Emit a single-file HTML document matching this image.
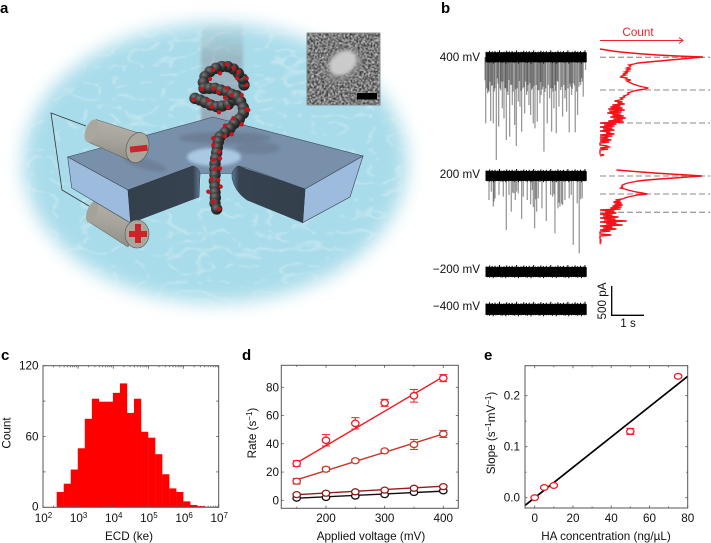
<!DOCTYPE html>
<html lang="en">
<head>
<meta charset="utf-8">
<title>Nanopore translocation figure</title>
<style>
html,body{margin:0;padding:0;background:#fff;width:711px;height:543px;overflow:hidden}
svg{position:absolute;left:0;top:0;display:block;filter:blur(.3px)}
text{font-family:"Liberation Sans",sans-serif;fill:#111;font-size:11.7px}
.pl{font-weight:bold;font-size:15px;fill:#000}
</style>
</head>
<body>
<svg id="fig" width="711" height="543" viewBox="0 0 711 543" xmlns="http://www.w3.org/2000/svg">
<defs>
<filter id="b14" x="-20%" y="-20%" width="140%" height="140%"><feGaussianBlur stdDeviation="9"/></filter>
<filter id="b4" x="-40%" y="-40%" width="180%" height="180%"><feGaussianBlur stdDeviation="4"/></filter>
<filter id="b2" x="-40%" y="-40%" width="180%" height="180%"><feGaussianBlur stdDeviation="1.5"/></filter>
<filter id="caustic" x="0" y="0" width="100%" height="100%" color-interpolation-filters="sRGB">
<feTurbulence type="turbulence" baseFrequency="0.035 0.06" numOctaves="2" seed="11"/>
<feColorMatrix type="matrix" values="0 0 0 0 1  0 0 0 0 1  0 0 0 0 1  -7 0 0 0 1.05"/>
<feGaussianBlur stdDeviation=".6"/>
</filter>
<filter id="grain" x="0" y="0" width="100%" height="100%" color-interpolation-filters="sRGB">
<feTurbulence type="fractalNoise" baseFrequency="0.7" numOctaves="2" seed="3"/>
<feColorMatrix type="matrix" values="2.4 0 0 0 -0.72  2.4 0 0 0 -0.72  2.4 0 0 0 -0.72  0 0 0 0 1"/>
<feGaussianBlur stdDeviation=".4"/>
</filter>
<mask id="oceanMask"><ellipse cx="215" cy="163" rx="192" ry="140" fill="#fff" filter="url(#b14)"/></mask>
<linearGradient id="cyl1" x1="0.4" y1="0" x2="0.2" y2="1"><stop offset="0" stop-color="#b4b1a8"/><stop offset=".5" stop-color="#a5a299"/><stop offset="1" stop-color="#8b8980"/></linearGradient>
<radialGradient id="bead" cx=".38" cy=".33" r=".75"><stop offset="0" stop-color="#777"/><stop offset=".55" stop-color="#333"/><stop offset="1" stop-color="#141414"/></radialGradient>
<linearGradient id="beam" x1="0" y1="0" x2="0" y2="1"><stop offset="0" stop-color="#8a8a90" stop-opacity="0"/><stop offset=".35" stop-color="#80808a" stop-opacity=".38"/><stop offset="1" stop-color="#7d6a78" stop-opacity=".45"/></linearGradient>
<linearGradient id="darkL" x1="0" y1="0" x2="1" y2="0"><stop offset="0" stop-color="#343f4c"/><stop offset=".9" stop-color="#36424f"/><stop offset="1" stop-color="#5f7a95"/></linearGradient>
<linearGradient id="darkR" x1="1" y1="0" x2="0" y2="0"><stop offset="0" stop-color="#343f4c"/><stop offset=".9" stop-color="#36424f"/><stop offset="1" stop-color="#5f7a95"/></linearGradient>
</defs>

<g id="panel-a">
  <ellipse cx="215" cy="163" rx="192" ry="140" fill="#a9dcea" filter="url(#b14)"/>
  <g mask="url(#oceanMask)"><rect x="0" y="0" width="430" height="340" filter="url(#caustic)" opacity=".3"/></g>
  <rect x="201" y="20" width="42" height="108" fill="url(#beam)" filter="url(#b2)"/>

  <g>
    <polygon points="94,201 140,221 128,247 89,222" fill="url(#cyl1)" stroke="#555" stroke-width=".5"/>
    <ellipse cx="92" cy="212" rx="5" ry="11" transform="rotate(20 92 212)" fill="#a5a299"/>
  </g>

  <polygon points="67.7,157 213,117 363,156 305,189 247,168 238,166 232,174 200,174 193,166 128,190" fill="#7890aa" stroke="#3b4654" stroke-width=".6"/>
  <polygon points="67.7,157 128,190 130.7,223 71.7,188" fill="#9dbcdd" stroke="#3b4654" stroke-width=".6"/>
  <polygon points="363,156 305,189 302.7,222.7 350,197" fill="#9dbcdd" stroke="#3b4654" stroke-width=".6"/>
  <path d="M128,190 L193,166 Q200,168 200,175 L199,197 L130.7,223 Z" fill="url(#darkL)" stroke="#2e3844" stroke-width=".5"/>
  <path d="M305,189 L238,166 Q231,170 232,178 Q235,192 247,200 L302.7,222.7 Z" fill="url(#darkR)" stroke="#2e3844" stroke-width=".5"/>
  <ellipse cx="225" cy="138" rx="46" ry="6" fill="#5d6b7d" opacity=".45" filter="url(#b2)"/>
  <ellipse cx="258" cy="148" rx="22" ry="6" fill="#5d6b7d" opacity=".4" filter="url(#b2)"/>
  <ellipse cx="145" cy="164" rx="22" ry="5" transform="rotate(15 145 164)" fill="#5d6b7d" opacity=".4" filter="url(#b2)"/>
  <ellipse cx="214" cy="157" rx="27" ry="9" fill="#b4d2ec" opacity=".85" filter="url(#b2)"/>
  <rect x="201" y="174" width="30" height="24" fill="#a9dcea"/>

  <g>
    <polygon points="96,119.5 145,135 131,161 88,142" fill="url(#cyl1)" stroke="#555" stroke-width=".5"/>
    <ellipse cx="91.500" cy="131" rx="6" ry="12" transform="rotate(20 91.5 131)" fill="#aaa79e"/>
    <ellipse cx="137.500" cy="147.500" rx="11" ry="15.500" transform="rotate(18 137.5 147.5)" fill="#a9a69c" stroke="#555" stroke-width=".6"/>
    <rect x="130" y="145.700" width="17.500" height="6" transform="rotate(-6 138.7 148.7)" fill="#c8262b"/>
  </g>
  <g>
    <ellipse cx="137" cy="234" rx="12" ry="14" fill="#a9a69c" stroke="#555" stroke-width=".6"/>
    <rect x="129" y="231" width="18" height="6" fill="#c8262b"/>
    <rect x="135" y="224" width="6" height="19" fill="#c8262b"/>
  </g>
  <polyline points="86,126 51,113 62,190 89,206" fill="none" stroke="#333" stroke-width=".8"/>
  <g id="beads" transform="translate(180 55) scale(.3333)"></g>

  <g>
    <rect x="307" y="33" width="73" height="72" filter="url(#grain)"/>
    <ellipse cx="343" cy="65" rx="21" ry="16" transform="rotate(-35 343 65)" fill="#8a8a8a" opacity=".55" filter="url(#b2)"/>
    <ellipse cx="343" cy="63" rx="15" ry="11" transform="rotate(-35 343 63)" fill="#cfcfcf" opacity=".95" filter="url(#b2)"/>
    <rect x="307" y="33" width="73" height="72" fill="none" stroke="#777" stroke-width=".8"/>
    <rect x="357" y="93" width="20" height="6.500" fill="#000"/>
  </g>
</g>

<text class="pl" x="0" y="13">a</text>
<text class="pl" x="441" y="13">b</text>
<text class="pl" x="1" y="360">c</text>
<text class="pl" x="242" y="360">d</text>
<text class="pl" x="484" y="360">e</text>

<g id="panel-b">
  <text x="480" y="61" text-anchor="end">400 mV</text>
  <text x="480" y="178" text-anchor="end">200 mV</text>
  <text x="480" y="273" text-anchor="end">−200 mV</text>
  <text x="480" y="310" text-anchor="end">−400 mV</text>
  <text x="638" y="36" text-anchor="middle" style="fill:#e8262c">Count</text>
  <line x1="600" y1="40.500" x2="682" y2="40.500" stroke="#e8262c" stroke-width="1"/>
  <polyline points="679,37.500 683,40.500 679,43.500" fill="none" stroke="#e8262c" stroke-width="1"/>
  <line x1="611.700" y1="286" x2="611.700" y2="315.500" stroke="#000" stroke-width="1.300"/>
  <line x1="611" y1="315.300" x2="644" y2="315.300" stroke="#000" stroke-width="1.300"/>
  <text x="0" y="0" text-anchor="middle" transform="translate(606 301) rotate(-90)">500 pA</text>
  <text x="628" y="327" text-anchor="middle">1 s</text>
</g>

<g id="plots"></g>

<script>
/* panel b data */
const spike400Times = [.05,.11,.15,.20,.28,.37,.44,.48,.55,.60,.67,.72,.77,.80,.85,.92,.97,1.03,1.08,1.13,1.22,1.28,1.32,1.35,1.40,1.48,1.53,1.60,1.68,1.72,1.80,1.90,1.97,2.03,2.10,2.17,2.25,2.36,2.43,2.48,2.56,2.63,2.74,2.81,2.90,2.98,3.05,.08,.18,.25,.33,.40,.52,.63,.75,.88,1.00,1.17,1.25,1.45,1.57,1.65,1.77,1.85,2.00,2.07,2.13,2.22,2.30,2.40,2.52,2.60,2.68,2.78,2.85,2.95,.03,.13,.23,.31,.42,.50,.57,.65,.70,.83,.95,1.06,1.11,1.20,1.30,1.38,1.43,1.50,1.62,1.70,1.75,1.83,1.93,2.05,2.15,2.20,2.33,2.45,2.58,2.65,2.72,2.88,2.93];
const spike400Amps = [1194,654,624,1152,1194,1854,1254,564,924,1104,1494,684,1434,504,864,1224,1602,804,894,1344,1014,684,504,864,1044,1194,1284,1164,834,684,1704,1194,744,1344,924,1374,894,1074,744,984,1356,684,1356,1044,504,714,234,564,444,504,564,384,444,564,414,624,564,564,444,564,504,594,534,564,564,624,504,444,594,504,564,534,474,624,534,444,420,600,520,620,480,600,440,560,620,500,580,430,610,540,620,470,590,520,600,450,580,630,500,560,610,430,540,600,480,570,510,450,380];
const spike200Times = [.15,.22,.28,.33,.45,.58,.67,.75,.82,.90,.94,1.03,1.13,1.18,1.30,1.40,1.45,1.52,1.58,1.63,1.74,1.87,2.00,2.06,2.13,2.22,2.28,2.36,2.43,2.56,2.68,2.80,2.86,2.95,.30,.86,.98,1.48,1.55,2.10,2.25,2.33,2.62,2.90];
const spike200Amps = [432,282,552,402,342,372,972,342,642,312,432,312,774,372,432,510,252,942,642,402,582,810,342,372,1032,582,552,522,432,402,1242,492,1392,402,460,300,280,560,420,330,480,500,340,420];
const noiseUp = [5.2,5.6,5,5.4,6.6,5.1,5.3,5.9,5,5.2,6.2,5.2,4.9,5.5,5.3,7,5.1,5.4,5];
const noiseDown = [5,4.8,5.3,4.9,5.7,4.8,5.1,4.8,6.2,5,4.9,5.3,4.8,5.1];
const hist400Counts = [0,6,12,20,30,42,56,75,100,89,79,68,58,47,37,33,28,30,29,26,30,25,28,24,27,22,25,21,20,26,25,30,26,28,30,32,35,38,42,47,44,38,33,30,27,28,26,23,24,20,22,19,14,22,17,24,12,20,10,22,8,24,9,21,7,20,12,23,10,25,13,22,8,23,0,16,4,14,0,12,3,14,0,10,6,14,0,12,0,8,0,11,0,9,0,0,0,7,9,0,8,0,0,0,0,0,4,0];
const hist200Counts = [16,28,40,53,68,85,99,85,72,58,46,37,32,27,24,22,21,22,20,24,27,31,35,41,46,36,32,27,24,22,15,20,13,21,14,22,12,21,10,20,0,14,5,16,0,12,3,18,0,15,4,26,0,16,6,22,0,12,3,16,0,10,0,0,0,11,0,0,0,0,1,0,1,0,1];

/* panel c data */
const binLogEdges = [2.39,2.59,2.79,2.99,3.19,3.39,3.59,3.79,3.99,4.19,4.39,4.59,4.79,4.99,5.19,5.39,5.59,5.79,5.99,6.19,6.39,6.59];
const binCounts = [13,20,32,50,75,92,89.500,89.500,97,105,80,92,64,59,45,28,16,13,5,2,1,.4];
const ecdTickExponents = [2,3,4,5,6,7];
const countTickLabels = [0,60,120];
const countTicks = [0,30,60,90,120];

/* panel d data */
const voltages = [150,200,250,300,350,400];
const rateRed = [26,42.500,54.500,69,74,86.500];
const rateRedErr = [2,4,4,2.500,4.500,2.500];
const rateBrown = [13.500,22,28,35,39.500,47];
const rateBrownErr = [2,1.500,1.200,1,3.500,2.500];
const rateDarkRed = [4,5,6,7.200,8.500,9.700];
const rateDarkRedErr = [.8,.8,.8,.8,.8,.8];
const rateBlack = [1.500,2,3,4,5.500,6.700];
const rateBlackErr = [.6,.6,.6,.6,.6,.6];
const fitVoltages = [150,400];
const fitRed = [26.500,87.500];
const fitBrown = [14.500,47];
const fitDarkRed = [4,10];
const fitBlack = [1.500,6.500];
const voltageTicks = [200,300,400];
const voltageMinor = [150,250,350];
const rateTicks = [0,20,40,60,80];

/* panel e data */
const concentrations = [0,5,10,50,75];
const slopes = [0,.02,.024,.13,.238];
const slopeErr = [.002,.002,.002,.006,.002];
const slopeFitX = [-5,80];
const slopeFitY = [-.015,.238];
const concTicks = [0,20,40,60,80];
const concMinor = [10,30,50,70];
const slopeTicks = [0,.1,.2];
const slopeMinor = [.05,.15];

/* illustration beads */
const coilBack = [[45,130],[60,135],[75,142],[92,150],[110,155],[127,153],[145,148],[160,135],[170,122]];
const coilFront = [[192,90],[188,72],[175,55],[160,42],[143,35],[125,35],[108,40],[90,50],[75,65],[70,82],[72,100],[88,100],[105,100],[122,105],[140,110],[155,118],[170,125],[182,140],[190,158],[190,175],[178,192],[163,205],[150,220],[135,232],[120,245],[115,260],[112,277],[110,293],[107,310],[105,326],[105,343],[105,360],[103,378],[105,395],[105,412],[106,428],[105,445],[110,462]];
const redDots = [[140,28],[120,55],[100,45],[160,38],[175,50],[200,70],[200,90],[172,70],[90,72],[65,102],[100,100],[115,112],[140,100],[135,128],[155,120],[185,120],[40,135],[85,135],[95,155],[117,172],[145,157],[200,162],[205,165],[160,190],[185,208],[135,212],[155,238],[135,243],[100,250],[100,270],[118,290],[100,315],[120,310],[105,342],[120,340],[95,372],[115,375],[85,410],[122,395],[100,440],[118,462]];

const NS = 'http://www.w3.org/2000/svg';
const root = document.getElementById('plots');
const FRAME = '#555';

function mk(tag, attrs, name, parent) {
  const e = document.createElementNS(NS, tag);
  for (const k in attrs) e.setAttribute(k, attrs[k]);
  
  
  (parent || root).appendChild(e);
  return e;
}
function label(x, y, str, anchor, name, parent) {
  const t = mk('text', {x: x, y: y, 'text-anchor': anchor}, name, parent);
  t.textContent = str;
  return t;
}
function sup(t, str, after) {
  const s = document.createElementNS(NS, 'tspan');
  s.setAttribute('dy', '-4');
  s.setAttribute('font-size', '8');
  s.textContent = str;
  t.appendChild(s);
  const r = document.createElementNS(NS, 'tspan');
  r.setAttribute('dy', '4');
  r.textContent = after || '';
  t.appendChild(r);
}
function tick(x1, y1, x2, y2, name, parent) {
  mk('line', {x1: x1, y1: y1, x2: x2, y2: y2, stroke: FRAME, 'stroke-width': .8}, name, parent);
}
function frame(box, name, parent) {
  mk('rect', {x: box.l, y: box.t, width: box.r - box.l, height: box.b - box.t, fill: 'none', stroke: FRAME, 'stroke-width': 1}, name, parent);
}
function xTicks(vals, fx, box, len, name, parent) {
  vals.forEach(function (v) {
    tick(fx(v), box.b, fx(v), box.b - len, name + '-bottom', parent);
    tick(fx(v), box.t, fx(v), box.t + len, name + '-top', parent);
  });
}
function yTicks(vals, fy, box, len, name, parent) {
  vals.forEach(function (v) {
    tick(box.l, fy(v), box.l + len, fy(v), name + '-left', parent);
    tick(box.r, fy(v), box.r - len, fy(v), name + '-right', parent);
  });
}

/* ---------- panel a beads ---------- */
const beadGroup = document.getElementById('beads');
coilBack.concat(coilFront).forEach(function (p) {
  mk('circle', {cx: p[0], cy: p[1], r: 17, fill: 'url(#bead)'}, 'dna-bead', beadGroup);
});
redDots.forEach(function (p) {
  mk('circle', {cx: p[0], cy: p[1], r: 6.5, fill: '#c8141c'}, 'dna-label-dot', beadGroup);
});

/* ---------- panel b ---------- */
const traceX0 = 486, traceX1 = 586.7, spikeX0 = 484, pxPerSec = 33.3, pxPerPA = 1 / 18;
function drawBand(cy, scale, name, g) {
  mk('rect', {x: traceX0, y: cy - 4.7 * scale, width: traceX1 - traceX0, height: 9.4 * scale, fill: '#000'}, name + '-core', g);
  let i = 0;
  for (let x = traceX0; x <= traceX1; x += .9) {
    mk('line', {x1: x, x2: x, y1: cy - noiseUp[i % noiseUp.length] * scale, y2: cy + noiseDown[i % noiseDown.length] * scale, stroke: '#000', 'stroke-width': 1}, name + '-noise', g);
    i++;
  }
}
function drawSpikes(times, amps, cy, name, g) {
  times.forEach(function (t, i) {
    const x = spikeX0 + t * pxPerSec;
    mk('line', {x1: x, x2: x, y1: cy, y2: cy + amps[i] * pxPerPA, stroke: '#000', 'stroke-opacity': .4, 'stroke-width': 1.3}, name, g);
  });
}
function drawHist(counts, yStart, name, g) {
  const pts = counts.map(function (c, i) { return (600 + c * 1.03) + ',' + (yStart + i); }).join(' ');
  mk('polyline', {points: pts, fill: 'none', stroke: '#f5101a', 'stroke-width': 1.4}, name, g);
}
function drawDashes(ys, name, g) {
  ys.forEach(function (y) {
    mk('line', {x1: 600, x2: 710, y1: y, y2: y, stroke: '#a0a0a0', 'stroke-width': 1.3, 'stroke-dasharray': '6 3'}, name, g);
  });
}
const gb = mk('g', {}, 'traces', root);
drawSpikes(spike400Times, spike400Amps, 57, 'spike-400mv', gb);
drawBand(57.3, 1, 'trace-400mv', gb);
drawSpikes(spike200Times, spike200Amps, 176, 'spike-200mv', gb);
drawBand(176, 1, 'trace-200mv', gb);
drawBand(272, 1, 'trace-neg200mv', gb);
drawBand(309.5, 1.1, 'trace-neg400mv', gb);
drawDashes([57.3, 90, 123], 'level-line-400mv', gb);
drawDashes([176, 194, 212.3], 'level-line-200mv', gb);
drawHist(hist400Counts, 49, 'histogram-400mv', gb);
drawHist(hist200Counts, 170, 'histogram-200mv', gb);

/* ---------- panel c ---------- */
const boxC = {l: 43, r: 218.7, t: 365.7, b: 507.3};
const xC = function (logv) { return boxC.l + (logv - 2) * (boxC.r - boxC.l) / 5; };
const yC = function (v) { return boxC.b - v * (boxC.b - boxC.t) / 120; };
const gc = mk('g', {}, 'ecd-histogram-chart', root);
binCounts.forEach(function (c, i) {
  const w = i + 1 < binLogEdges.length ? xC(binLogEdges[i + 1]) - xC(binLogEdges[i]) : xC(binLogEdges[i] + .2) - xC(binLogEdges[i]);
  mk('rect', {x: xC(binLogEdges[i]), y: yC(c), width: w + .2, height: yC(0) - yC(c), fill: '#fe0000'}, 'ecd-bar', gc);
});
ecdTickExponents.forEach(function (ex) {
  tick(xC(ex), boxC.b, xC(ex), boxC.b - 3, 'x-tick-bottom', gc);
  tick(xC(ex), boxC.t, xC(ex), boxC.t + 3, 'x-tick-top', gc);
  if (ex < 7) for (let m = 2; m < 10; m++) {
    const lx = xC(ex + Math.log10(m));
    tick(lx, boxC.b, lx, boxC.b - 1.6, 'x-minor-tick-bottom', gc);
    tick(lx, boxC.t, lx, boxC.t + 1.6, 'x-minor-tick-top', gc);
  }
  const t = label(xC(ex) + .5, 522, '10', 'middle', 'x-tick-label', gc);
  sup(t, String(ex));
});
yTicks(countTicks, yC, boxC, 2.5, 'y-tick', gc);
countTickLabels.forEach(function (v) {
  label(38.5, yC(v) + (v === 0 ? 3 : 4), String(v), 'end', 'y-tick-label', gc);
});
frame(boxC, 'ecd-plot-frame', gc);
label(129, 540, 'ECD (ke)', 'middle', 'x-axis-title', gc);
const countTitle = label(0, 0, 'Count', 'middle', 'y-axis-title', gc);
countTitle.setAttribute('transform', 'translate(10.5 433) rotate(-90)');

/* ---------- panel d ---------- */
const boxD = {l: 281.3, r: 458.3, t: 365.3, b: 508.3};
const xD = function (v) { return 326 + (v - 200) * .5865; };
const yD = function (v) { return 500.3 - v * 1.4125; };
const gd = mk('g', {}, 'rate-chart', root);
function series(xs, ys, errs, fitX, fitY, fx, fy, color, name, g, rx, ry) {
  mk('line', {x1: fx(fitX[0]), y1: fy(fitY[0]), x2: fx(fitX[1]), y2: fy(fitY[1]), stroke: color, 'stroke-width': 1.4}, name + '-fit-line', g);
  xs.forEach(function (x, i) {
    const px = fx(x);
    const hi = fy(ys[i] + errs[i]), lo = fy(ys[i] - errs[i]);
    mk('line', {x1: px, x2: px, y1: hi, y2: lo, stroke: color, 'stroke-width': 1}, name + '-error-bar', g);
    mk('line', {x1: px - 4, x2: px + 4, y1: hi, y2: hi, stroke: color, 'stroke-width': 1}, name + '-error-cap', g);
    mk('line', {x1: px - 4, x2: px + 4, y1: lo, y2: lo, stroke: color, 'stroke-width': 1}, name + '-error-cap', g);
    mk('ellipse', {cx: px, cy: fy(ys[i]), rx: rx, ry: ry, fill: '#fff', stroke: color, 'stroke-width': 1.3}, name + '-point', g);
  });
}
series(voltages, rateBlack, rateBlackErr, fitVoltages, fitBlack, xD, yD, '#111', 'black-series', gd, 3.7, 3);
series(voltages, rateDarkRed, rateDarkRedErr, fitVoltages, fitDarkRed, xD, yD, '#8f1d1d', 'dark-red-series', gd, 3.7, 3);
series(voltages, rateBrown, rateBrownErr, fitVoltages, fitBrown, xD, yD, '#c43a2c', 'brown-series', gd, 3.7, 3);
series(voltages, rateRed, rateRedErr, fitVoltages, fitRed, xD, yD, '#ee1c25', 'red-series', gd, 3.7, 3.2);
xTicks(voltageTicks, xD, boxD, 2.5, 'x-tick', gd);
xTicks(voltageMinor, xD, boxD, 1.5, 'x-minor-tick', gd);
yTicks(rateTicks, yD, boxD, 2.5, 'y-tick', gd);
voltageTicks.forEach(function (v) { label(xD(v), 522, String(v), 'middle', 'x-tick-label', gd); });
rateTicks.forEach(function (v) { label(279, yD(v) + 4, String(v), 'end', 'y-tick-label', gd); });
frame(boxD, 'rate-plot-frame', gd);
label(371, 540, 'Applied voltage (mV)', 'middle', 'x-axis-title', gd);
const rateTitle = label(0, 0, 'Rate (s', 'middle', 'y-axis-title', gd);
rateTitle.setAttribute('transform', 'translate(256 433) rotate(-90)');
sup(rateTitle, '−1', ')');

/* ---------- panel e ---------- */
const boxE = {l: 525, r: 687.7, t: 365.7, b: 508};
const xE = function (v) { return 534.7 + v * 1.9125; };
const yE = function (v) { return 497.7 - v * 510; };
const ge = mk('g', {}, 'slope-chart', root);
mk('line', {x1: xE(slopeFitX[0]), y1: yE(slopeFitY[0]), x2: xE(slopeFitX[1]), y2: yE(slopeFitY[1]), stroke: '#000', 'stroke-width': 1.7}, 'slope-fit-line', ge);
concentrations.forEach(function (c, i) {
  const px = xE(c);
  const hi = yE(slopes[i] + slopeErr[i]), lo = yE(slopes[i] - slopeErr[i]);
  mk('line', {x1: px - 4, x2: px + 4, y1: hi, y2: hi, stroke: '#ee1c25', 'stroke-width': 1}, 'slope-error-cap', ge);
  mk('line', {x1: px - 4, x2: px + 4, y1: lo, y2: lo, stroke: '#ee1c25', 'stroke-width': 1}, 'slope-error-cap', ge);
  mk('ellipse', {cx: px, cy: yE(slopes[i]), rx: 3.7, ry: 2.9, fill: '#fff', stroke: '#ee1c25', 'stroke-width': 1.3}, 'slope-point', ge);
});
xTicks(concTicks, xE, boxE, 2.5, 'x-tick', ge);
xTicks(concMinor, xE, boxE, 1.5, 'x-minor-tick', ge);
yTicks(slopeTicks, yE, boxE, 2.5, 'y-tick', ge);
yTicks(slopeMinor, yE, boxE, 1.5, 'y-minor-tick', ge);
concTicks.forEach(function (v) { label(xE(v), 522, String(v), 'middle', 'x-tick-label', ge); });
slopeTicks.forEach(function (v) { label(520, yE(v) + 4, v.toFixed(1), 'end', 'y-tick-label', ge); });
frame(boxE, 'slope-plot-frame', ge);
label(606, 540, 'HA concentration (ng/µL)', 'middle', 'x-axis-title', ge);
const slopeTitle = label(0, 0, 'Slope (s', 'middle', 'y-axis-title', ge);
slopeTitle.setAttribute('transform', 'translate(495 433) rotate(-90)');
sup(slopeTitle, '−1', 'mV');
sup(slopeTitle, '−1', ')');
</script>
</svg>
</body>
</html>
